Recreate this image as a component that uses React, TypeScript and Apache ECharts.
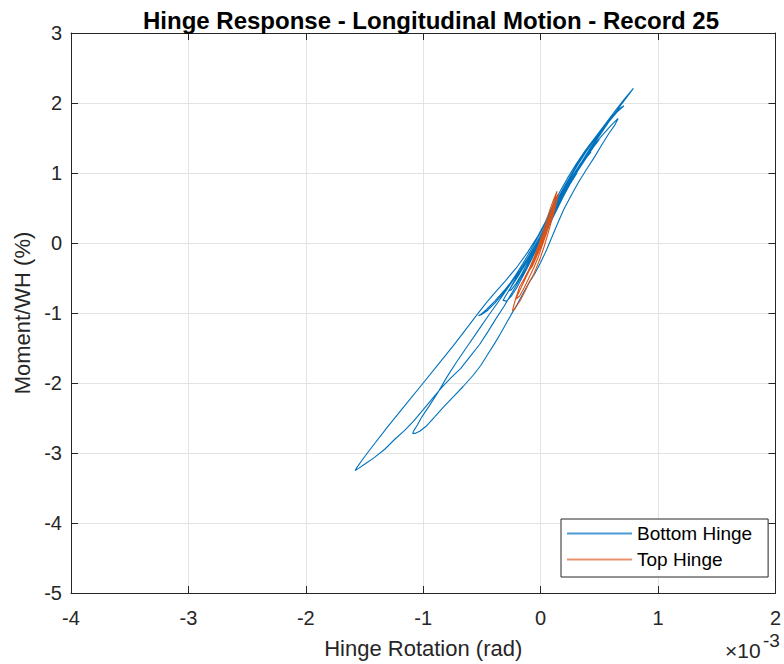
import React, { useEffect, useRef } from "react";
import * as echarts from "echarts";

// Rotation in units of 1e-3 rad, moment in % of WH.
const xTickLabels = ["-4", "-3", "-2", "-1", "0", "1", "2"];
const yTickLabels = ["-5", "-4", "-3", "-2", "-1", "0", "1", "2", "3"];

const bottomStart: [number, number][] = [
  [0.0, 0.0], [0.04, 0.12], [0.08, 0.28], [0.04, 0.18], [-0.02, 0.0], [-0.08, -0.18],
  [-0.12, -0.32], [-0.07, -0.2], [0.0, 0.02], [0.08, 0.28], [0.16, 0.55], [0.24, 0.82],
  [0.34, 1.1], [0.44, 1.38], [0.54, 1.63], [0.63, 1.85], [0.71, 2.03], [0.79, 2.21],
];
const bottomCycle1Down: [number, number][] = [
  [0.72, 2.07], [0.64, 1.9], [0.56, 1.72], [0.47, 1.52], [0.38, 1.32], [0.3, 1.12],
  [0.23, 0.93], [0.16, 0.72], [0.1, 0.52], [0.04, 0.3], [-0.03, 0.08], [-0.11, -0.13],
  [-0.2, -0.34], [-0.3, -0.54], [-0.4, -0.73], [-0.47, -0.87], [-0.54, -1.02], [-0.64, -1.24],
  [-0.74, -1.46], [-0.87, -1.73], [-1.0, -2.0], [-1.15, -2.31], [-1.3, -2.62], [-1.43, -2.9],
  [-1.52, -3.1], [-1.57, -3.22], [-1.58, -3.25],
];
const bottomCycle1Up: [number, number][] = [
  [-1.55, -3.22], [-1.49, -3.15], [-1.42, -3.07], [-1.33, -2.95], [-1.24, -2.8], [-1.16, -2.68],
  [-1.08, -2.54], [-1.0, -2.38], [-0.92, -2.22], [-0.84, -2.06], [-0.76, -1.92], [-0.68, -1.79],
  [-0.6, -1.62], [-0.52, -1.45], [-0.45, -1.27], [-0.38, -1.08], [-0.31, -0.9], [-0.24, -0.7],
  [-0.17, -0.5], [-0.1, -0.29], [-0.03, -0.06], [0.04, 0.18], [0.11, 0.42], [0.18, 0.66],
  [0.26, 0.9], [0.34, 1.13], [0.42, 1.35], [0.5, 1.55], [0.58, 1.73], [0.65, 1.87], [0.71, 1.96],
];
const bottomCycle2Down: [number, number][] = [
  [0.68, 1.93], [0.62, 1.83], [0.55, 1.68], [0.47, 1.5], [0.39, 1.31], [0.31, 1.1],
  [0.24, 0.89], [0.17, 0.67], [0.11, 0.46], [0.05, 0.25], [-0.02, 0.03], [-0.1, -0.19],
  [-0.18, -0.4], [-0.27, -0.62], [-0.36, -0.84], [-0.45, -1.05], [-0.54, -1.27], [-0.63, -1.49],
  [-0.72, -1.71], [-0.8, -1.92], [-0.88, -2.15], [-0.95, -2.33], [-1.01, -2.48], [-1.05, -2.6],
  [-1.08, -2.68], [-1.09, -2.72],
];
const bottomCycle2Up: [number, number][] = [
  [-1.07, -2.72], [-1.03, -2.69], [-0.97, -2.61], [-0.9, -2.48], [-0.82, -2.33], [-0.74, -2.19],
  [-0.66, -2.05], [-0.58, -1.9], [-0.51, -1.75], [-0.45, -1.59], [-0.39, -1.43], [-0.34, -1.29],
  [-0.29, -1.14], [-0.25, -1.02], [-0.2, -0.88], [-0.15, -0.72], [-0.1, -0.57], [-0.05, -0.44],
  [0.0, -0.28], [0.05, -0.1], [0.1, 0.1], [0.15, 0.3], [0.2, 0.49], [0.26, 0.68], [0.32, 0.86],
  [0.39, 1.05], [0.46, 1.23], [0.52, 1.4], [0.58, 1.56], [0.63, 1.68], [0.66, 1.78],
];
const bottomCycle3: [number, number][] = [
  [0.6, 1.68], [0.52, 1.53], [0.43, 1.35], [0.35, 1.15], [0.28, 0.95], [0.21, 0.74],
  [0.15, 0.54], [0.09, 0.34], [0.03, 0.14], [-0.04, -0.07], [-0.12, -0.27], [-0.21, -0.47],
  [-0.3, -0.66], [-0.39, -0.83], [-0.46, -0.95], [-0.51, -1.02], [-0.53, -1.04],
  [-0.5, -1.02], [-0.45, -0.96], [-0.39, -0.86], [-0.33, -0.74], [-0.27, -0.6], [-0.21, -0.45],
  [-0.15, -0.29], [-0.09, -0.12], [-0.03, 0.06], [0.03, 0.25], [0.09, 0.45], [0.15, 0.65],
  [0.22, 0.86], [0.29, 1.06], [0.36, 1.24], [0.43, 1.41], [0.49, 1.55], [0.54, 1.65],
];
const bottomCycle4: [number, number][] = [
  [0.5, 1.57], [0.44, 1.44], [0.37, 1.28], [0.3, 1.09], [0.23, 0.88], [0.17, 0.68],
  [0.11, 0.48], [0.05, 0.28], [-0.01, 0.08], [-0.08, -0.13], [-0.15, -0.33], [-0.21, -0.5],
  [-0.26, -0.65], [-0.3, -0.76], [-0.32, -0.82],
  [-0.29, -0.83], [-0.25, -0.76], [-0.2, -0.63], [-0.15, -0.47], [-0.1, -0.31], [-0.05, -0.14],
  [0.0, 0.03], [0.06, 0.22], [0.12, 0.42], [0.18, 0.62], [0.25, 0.84], [0.32, 1.04],
  [0.39, 1.22], [0.45, 1.37], [0.5, 1.48],
];
const bottomCycle5: [number, number][] = [
  [0.46, 1.41], [0.4, 1.28], [0.33, 1.11], [0.26, 0.92], [0.19, 0.71], [0.13, 0.51],
  [0.07, 0.31], [0.01, 0.11], [-0.06, -0.1], [-0.13, -0.3], [-0.19, -0.47], [-0.24, -0.6],
  [-0.27, -0.68],
  [-0.25, -0.67], [-0.21, -0.58], [-0.16, -0.44], [-0.11, -0.28], [-0.05, -0.1], [0.01, 0.09],
  [0.07, 0.28], [0.13, 0.48], [0.19, 0.68], [0.26, 0.89], [0.33, 1.08], [0.39, 1.22], [0.43, 1.3],
];
const bottomEnd: [number, number][] = [
  [0.38, 1.21], [0.31, 1.05], [0.24, 0.86], [0.17, 0.64], [0.11, 0.44], [0.05, 0.24],
  [-0.02, 0.03], [-0.09, -0.17], [-0.15, -0.33], [-0.19, -0.43],
  [-0.15, -0.36], [-0.09, -0.19], [-0.03, -0.01], [0.04, 0.2], [0.11, 0.42], [0.18, 0.63],
  [0.25, 0.84], [0.31, 1.0],
  [0.24, 0.82], [0.16, 0.58], [0.09, 0.36], [0.03, 0.16], [-0.02, 0.02], [-0.04, -0.03],
];

const topCycle1: [number, number][] = [
  [0.0, 0.0], [0.03, 0.14], [0.06, 0.3], [0.09, 0.46], [0.12, 0.62], [0.14, 0.74],
  [0.11, 0.62], [0.08, 0.48], [0.05, 0.32], [0.02, 0.16], [-0.01, 0.0], [-0.05, -0.18],
  [-0.1, -0.38], [-0.14, -0.51], [-0.18, -0.63], [-0.21, -0.78], [-0.23, -0.9], [-0.24, -0.97],
  [-0.22, -0.94], [-0.17, -0.81], [-0.13, -0.68], [-0.1, -0.57], [-0.06, -0.45], [-0.03, -0.33],
  [0.0, -0.2], [0.03, -0.05], [0.06, 0.12], [0.09, 0.3], [0.12, 0.48], [0.14, 0.62], [0.15, 0.7],
];
const topCycle2: [number, number][] = [
  [0.13, 0.64], [0.1, 0.5], [0.07, 0.35], [0.04, 0.2], [0.01, 0.04], [-0.03, -0.13],
  [-0.07, -0.3], [-0.11, -0.44], [-0.15, -0.58], [-0.19, -0.72], [-0.21, -0.8],
  [-0.18, -0.76], [-0.14, -0.64], [-0.1, -0.5], [-0.06, -0.36], [-0.02, -0.2], [0.01, -0.05],
  [0.05, 0.14], [0.08, 0.31], [0.11, 0.47], [0.13, 0.58],
];
const topEnd: [number, number][] = [
  [0.1, 0.46], [0.07, 0.32], [0.04, 0.17], [0.01, 0.02], [-0.03, -0.14], [-0.07, -0.3],
  [-0.1, -0.4], [-0.07, -0.33], [-0.03, -0.18], [0.01, -0.01], [0.05, 0.18], [0.08, 0.33],
  [0.1, 0.42], [0.07, 0.3], [0.03, 0.14], [0.0, 0.02],
];

const bottomHinge = [
  ...bottomStart, ...bottomCycle1Down, ...bottomCycle1Up, ...bottomCycle2Down,
  ...bottomCycle2Up, ...bottomCycle3, ...bottomCycle4, ...bottomCycle5, ...bottomEnd,
];
const topHinge = [...topCycle1, ...topCycle2, ...topEnd];

const FONT = "'Liberation Sans', Arial, Helvetica, sans-serif";
const AXIS = "#262626";
const GRIDC = "#e3e3e3";
const BLUE = "#0072BD";
const ORANGE = "#D95319";

export default function App() {
  const ref = useRef<HTMLDivElement>(null);
  useEffect(() => {
    document.body.style.margin = "0";
    const chart = echarts.init(ref.current!, undefined, { renderer: "svg" });
    const baseX = {
      type: "value" as const,
      min: -4,
      max: 2,
      interval: 1,
      axisLine: { show: true, onZero: false, lineStyle: { color: AXIS, width: 1 } },
      axisTick: { show: true, inside: true, length: 7, lineStyle: { color: AXIS } },
    };
    const baseY = {
      type: "value" as const,
      min: -5,
      max: 3,
      interval: 1,
      axisLine: { show: true, onZero: false, lineStyle: { color: AXIS, width: 1 } },
      axisTick: { show: true, inside: true, length: 7, lineStyle: { color: AXIS } },
    };
    chart.setOption({
      animation: false,
      backgroundColor: "#ffffff",
      title: {
        text: "Hinge Response - Longitudinal Motion - Record 25",
        left: 426,
        textAlign: "center",
        top: 3,
        textStyle: { fontFamily: FONT, fontSize: 24, fontWeight: "bold", color: "#000" },
      },
      grid: { left: 71, top: 33, width: 709, height: 560, containLabel: false },
      xAxis: [
        {
          ...baseX,
          position: "bottom",
          name: "Hinge Rotation (rad)",
          nameLocation: "middle",
          nameGap: 44,
          nameTextStyle: { fontFamily: FONT, fontSize: 22, color: AXIS },
          axisLabel: {
            fontFamily: FONT,
            fontSize: 20,
            color: AXIS,
            margin: 15,
            formatter: (v: number) => xTickLabels[Math.round(v) + 4] ?? String(v),
          },
          splitLine: { show: true, lineStyle: { color: GRIDC, width: 1 } },
        },
        {
          ...baseX,
          position: "top",
          axisLabel: { show: false },
          splitLine: { show: false },
        },
      ],
      yAxis: [
        {
          ...baseY,
          position: "left",
          name: "Moment/WH (%)",
          nameLocation: "middle",
          nameGap: 34,
          nameTextStyle: { fontFamily: FONT, fontSize: 22, color: AXIS },
          axisLabel: {
            fontFamily: FONT,
            fontSize: 20,
            color: AXIS,
            margin: 9,
            formatter: (v: number) => yTickLabels[Math.round(v) + 5] ?? String(v),
          },
          splitLine: { show: true, lineStyle: { color: GRIDC, width: 1 } },
        },
        {
          ...baseY,
          position: "right",
          axisLabel: { show: false },
          splitLine: { show: false },
        },
      ],
      legend: {
        data: [
          { name: "Bottom Hinge", icon: "rect", itemStyle: { color: "#4a9ad4" } },
          { name: "Top Hinge", icon: "rect", itemStyle: { color: "#e8916a" } },
        ],
        orient: "vertical",
        left: 561,
        top: 519,
        itemWidth: 65,
        itemHeight: 2,
        itemGap: 5,
        padding: [4, 16, 7, 6],
        borderColor: AXIS,
        borderWidth: 1,
        backgroundColor: "#ffffff",
        textStyle: {
          fontFamily: FONT,
          fontSize: 19,
          color: "#000",
          lineHeight: 21,
        },
      },
      graphic: [
        {
          type: "text",
          left: 725,
          top: 640,
          style: { text: "×10", fontFamily: FONT, fontSize: 21, fill: AXIS },
        },
        {
          type: "text",
          left: 763,
          top: 631,
          style: { text: "-3", fontFamily: FONT, fontSize: 19, fill: AXIS },
        },
      ],
      series: [
        {
          name: "Bottom Hinge",
          type: "line",
          xAxisIndex: 0,
          yAxisIndex: 0,
          data: bottomHinge,
          symbol: "none",
          smooth: false,
          lineStyle: { color: BLUE, width: 1.1 },
          itemStyle: { color: BLUE },
          z: 3,
        },
        {
          name: "Top Hinge",
          type: "line",
          xAxisIndex: 0,
          yAxisIndex: 0,
          data: topHinge,
          symbol: "none",
          smooth: false,
          lineStyle: { color: ORANGE, width: 1.1 },
          itemStyle: { color: ORANGE },
          z: 4,
        },
      ],
    });
    return () => chart.dispose();
  }, []);
  return (
    <div
      ref={ref}
      style={{ position: "absolute", left: 0, top: 0, width: 784, height: 664, background: "#fff" }}
    />
  );
}
